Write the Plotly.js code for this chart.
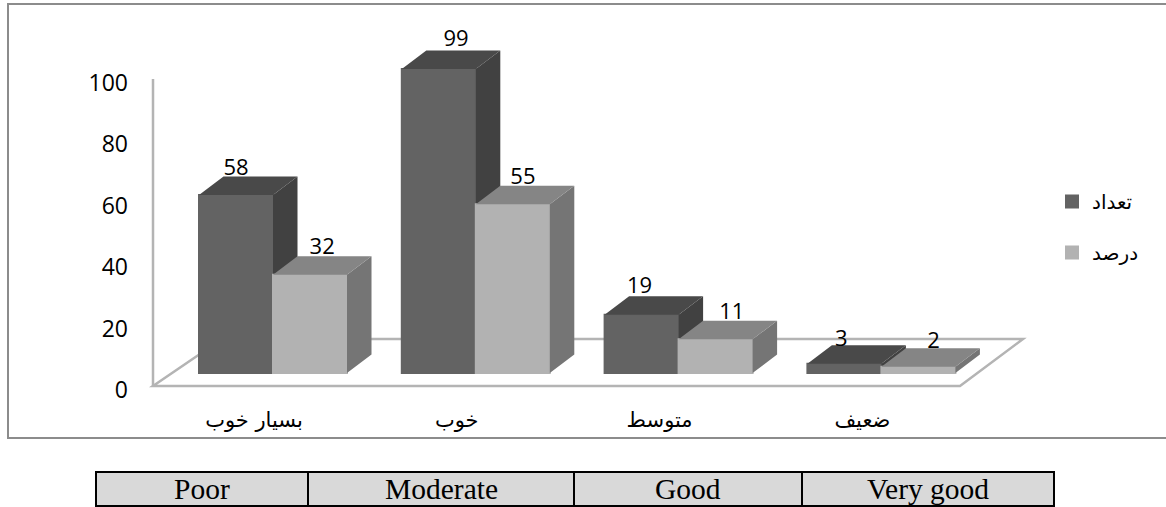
<!DOCTYPE html>
<html><head><meta charset="utf-8">
<script src="https://cdn.plot.ly/plotly-3.0.1.min.js"></script>
<style>html,body{margin:0;padding:0;background:#fff}#c{width:1166px;height:507px}</style>
</head><body><div id="c"></div>
<script>
const categories = ['بسیار خوب', 'خوب', 'متوسط', 'ضعیف'];
const countName = 'تعداد';
const percentName = 'درصد';
const countValues = [58, 99, 19, 3];
const percentValues = [32, 55, 11, 2];
const yTicks = [0, 20, 40, 60, 80, 100];
const tableLabels = ['Poor', 'Moderate', 'Good', 'Very good'];

// geometry (page pixels -> axis units)
const W = 1166, H = 507;
const xUnit = 202.8, x0px = 273, yUnit = 3.07, y0px = 386;
const xRange = [-x0px / xUnit, (W - x0px) / xUnit];
const yRange = [(y0px - H) / yUnit, y0px / yUnit];
const X = p => (p - x0px) / xUnit, Y = p => (y0px - p) / yUnit;
const PX = p => p / W, PY = p => 1 - p / H;
const barW = 74 / xUnit, dx = 24.5 / xUnit, dy = 18.5 / yUnit, base = 13 / yUnit;
const countLabelShift = [0, 0.085, -0.01, -0.015];
const percentLabelShift = [0.06, 0.05, 0.08, 0.075];
const countLabelRise = [7, 10, 9, 5];
const percentLabelRise = [8, 7, 7, 6];

function faces(values, left) {
  const side = {x: [], y: []}, top = {x: [], y: []};
  values.forEach((v, i) => {
    const l = i + left, r = l + barW, t = base + v, b = base;
    side.x.push(r, r + dx, r + dx, r, r, null);
    side.y.push(b, b + dy, t + dy, t, b, null);
    top.x.push(l, r, r + dx, l + dx, l, null);
    top.y.push(t, t, t + dy, t + dy, t, null);
  });
  return {side, top};
}
function poly(d, color, xa, ya) {
  return {type: 'scatter', mode: 'lines', x: d.x, y: d.y, xaxis: xa, yaxis: ya, fill: 'toself',
    fillcolor: color, line: {width: 0, color: color}, showlegend: false, hoverinfo: 'skip', cliponaxis: false};
}
const idx = categories.map((_, i) => i);
const fc = faces(countValues, -barW), fp = faces(percentValues, 0);
const labelFont = {family: 'Open Sans', size: 22, color: '#000'};

const traces = [
  {type: 'bar', name: countName, x: idx, y: countValues, base: base, width: barW, offset: -barW,
   marker: {color: '#636363', line: {width: 2, color: '#636363'}}, xaxis: 'x', yaxis: 'y', legendgroup: 'a', hoverinfo: 'skip'},
  poly(fc.side, '#414141', 'x', 'y'),
  poly(fc.top, '#494949', 'x', 'y'),
  {type: 'bar', name: percentName, x: idx, y: percentValues, base: base, width: barW, offset: 0,
   marker: {color: '#b2b2b2', line: {width: 2, color: '#b2b2b2'}}, xaxis: 'x2', yaxis: 'y2', legendgroup: 'b', hoverinfo: 'skip'},
  poly(fp.side, '#757575', 'x2', 'y2'),
  poly(fp.top, '#858585', 'x2', 'y2'),
  {type: 'scatter', mode: 'text', x: idx.map(i => i - barW / 2 + countLabelShift[i]),
   y: countValues.map((v, i) => v + base + dy + countLabelRise[i] / yUnit), text: countValues.map(String),
   textposition: 'middle center', textfont: labelFont, xaxis: 'x2', yaxis: 'y2', showlegend: false,
   cliponaxis: false, hoverinfo: 'skip'},
  {type: 'scatter', mode: 'text', x: idx.map(i => i + barW / 2 + percentLabelShift[i]),
   y: percentValues.map((v, i) => v + base + dy + percentLabelRise[i] / yUnit), text: percentValues.map(String),
   textposition: 'middle center', textfont: labelFont, xaxis: 'x2', yaxis: 'y2', showlegend: false,
   cliponaxis: false, hoverinfo: 'skip'}
];

// table below the chart
const tableEdges = [96, 308, 574, 802, 1054];
const tableTop = 472, tableBottom = 506;
const shapes = [
  {type: 'rect', xref: 'paper', yref: 'paper', x0: PX(8), x1: PX(1170), y0: PY(4), y1: PY(438),
   line: {color: '#8c8c8c', width: 2}, layer: 'below'},
  {type: 'path', xref: 'x', yref: 'y', layer: 'below', line: {color: '#b4b4b4', width: 2.5},
   path: `M${X(153)},${Y(386)}L${X(960)},${Y(386)}L${X(1023)},${Y(339)}L${X(222)},${Y(339)}Z`},
  {type: 'line', xref: 'x', yref: 'y', layer: 'below', line: {color: '#b4b4b4', width: 2.5},
   x0: X(153), x1: X(153), y0: 0, y1: 100},
  {type: 'rect', xref: 'paper', yref: 'paper', x0: PX(96), x1: PX(1054), y0: PY(tableTop), y1: PY(tableBottom),
   fillcolor: '#d9d9d9', line: {color: '#000', width: 2}, layer: 'below'}
];
tableEdges.slice(1, -1).forEach(e => shapes.push({type: 'line', xref: 'paper', yref: 'paper',
  x0: PX(e), x1: PX(e), y0: PY(tableTop), y1: PY(tableBottom), line: {color: '#000', width: 2}}));
const annotations = tableLabels.map((t, i) => ({text: t, xref: 'paper', yref: 'paper', showarrow: false,
  x: PX((tableEdges[i] + tableEdges[i + 1]) / 2), y: PY((tableTop + tableBottom) / 2), xanchor: 'center', yanchor: 'middle',
  font: {family: 'Liberation Serif', size: 29.5, color: '#000'}}));

const layout = {
  width: W, height: H, margin: {l: 0, r: 0, t: 0, b: 0}, paper_bgcolor: '#fff', plot_bgcolor: 'rgba(0,0,0,0)',
  showlegend: true, barmode: 'overlay',
  xaxis: {range: xRange, anchor: 'free', position: PY(405), tickmode: 'array', tickvals: idx.map(i => i - 19 / xUnit),
    ticktext: categories, showgrid: false, zeroline: false, showline: false, ticks: '',
    tickfont: {family: 'DejaVu Sans', size: 21, color: '#000'}},
  yaxis: {range: yRange, anchor: 'free', position: PX(128), side: 'left', tickmode: 'array', tickvals: yTicks,
    ticktext: yTicks.map(String), showgrid: false, zeroline: false, showline: false, ticks: '',
    ticklabelshift: 4, tickfont: {family: 'Open Sans', size: 23, color: '#000'}},
  xaxis2: {range: xRange, overlaying: 'x', anchor: 'y2', visible: false},
  yaxis2: {range: yRange, overlaying: 'y', anchor: 'x2', visible: false},
  legend: {x: PX(1052), y: PY(182), xanchor: 'left', yanchor: 'top', tracegroupgap: 22, bgcolor: 'rgba(0,0,0,0)',
    font: {family: 'DejaVu Sans', size: 20, color: '#000'}, itemwidth: 30},
  shapes, annotations
};
Plotly.newPlot('c', traces, layout, {displayModeBar: false, staticPlot: true});
</script></body></html>
